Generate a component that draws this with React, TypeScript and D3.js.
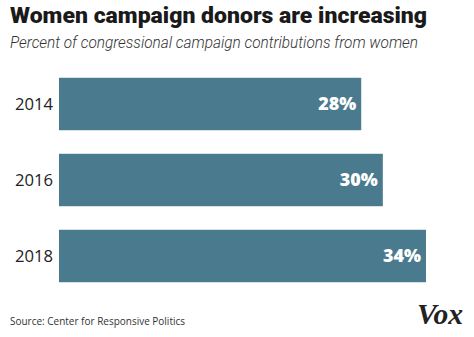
import React from "react";
import * as d3 from "d3";

const years = ["2014", "2016", "2018"];
const values = [28, 30, 34];
const valueLabels = ["28%", "30%", "34%"];

const W = 474;
const H = 337;

export default function App() {
  const x0 = 59;
  const x = d3.scaleLinear().domain([0, 34]).range([x0, 426]);
  const y = d3
    .scaleBand<string>()
    .domain(years)
    .range([66, 294])
    .paddingInner(0.31)
    .paddingOuter(0.155);
  const color = "#4a7a8e";
  return (
    <svg
      width={W}
      height={H}
      style={{ position: "absolute", left: 0, top: 0, background: "#fff" }}
    >
      <text
        x={10}
        y={23}
        fontFamily="Roboto"
        fontWeight={900}
        fontSize={22.5}
        fill="#1a1a1a"
        textLength={417}
        lengthAdjust="spacingAndGlyphs"
      >
        Women campaign donors are increasing
      </text>
      <text
        x={10}
        y={48}
        fontFamily="Roboto"
        fontStyle="italic"
        fontWeight={300}
        fontSize={16}
        fill="#333"
        textLength={408}
        lengthAdjust="spacingAndGlyphs"
      >
        Percent of congressional campaign contributions from women
      </text>
      {years.map((yr, i) => {
        const by = y(yr)!;
        const bh = y.bandwidth();
        return (
          <g key={yr}>
            <rect x={x(0)} y={by} width={x(values[i]) - x(0)} height={bh} fill={color} />
            <text
              x={53}
              y={by + bh / 2 + 6}
              textAnchor="end"
              fontFamily="Open Sans"
              fontWeight={400}
              fontSize={17}
              fill="#222"
              textLength={38}
              lengthAdjust="spacingAndGlyphs"
            >
              {yr}
            </text>
            <text
              x={x(values[i]) - 5}
              y={by + bh / 2 + 6}
              textAnchor="end"
              fontFamily="Open Sans"
              fontWeight={800}
              fontSize={17}
              fill="#fff"
              textLength={38}
              lengthAdjust="spacingAndGlyphs"
            >
              {valueLabels[i]}
            </text>
          </g>
        );
      })}
      <text
        x={10}
        y={325}
        fontFamily="Open Sans"
        fontSize={10.5}
        fill="#333"
        textLength={175}
        lengthAdjust="spacingAndGlyphs"
      >
        Source: Center for Responsive Politics
      </text>
      <text
        x={417}
        y={324}
        fontFamily="Liberation Serif"
        fontWeight={700}
        fontStyle="italic"
        fontSize={30}
        fill="#222"
        textLength={46}
        lengthAdjust="spacingAndGlyphs"
      >
        Vox
      </text>
    </svg>
  );
}
